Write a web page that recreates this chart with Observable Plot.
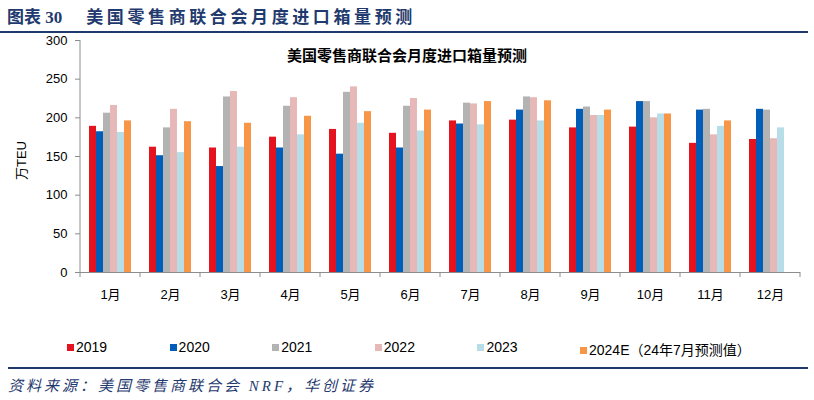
<!DOCTYPE html>
<html><head><meta charset="utf-8">
<script src="https://cdn.jsdelivr.net/npm/d3@7"></script>
<script src="https://cdn.jsdelivr.net/npm/@observablehq/plot@0.6"></script>
<style>
body{margin:0;background:#fff;width:814px;height:400px;position:relative;overflow:hidden;font-family:"Liberation Sans","Noto Sans CJK SC",sans-serif;}
#title{position:absolute;left:7px;top:3px;font-size:17px;font-weight:bold;color:#1f3a6e;font-family:"Liberation Serif","Noto Sans CJK SC",serif;white-space:nowrap;}
#title .main{letter-spacing:3.6px;margin-left:24px;}
#tline{position:absolute;left:0;top:31px;width:808px;height:2px;background:#1f3a6e;}
#chart{position:absolute;left:0;top:0;}
#inner{position:absolute;left:0;width:814px;top:44px;text-align:center;font-size:15px;font-weight:bold;color:#000;font-family:"Noto Sans CJK SC",sans-serif;}
#ylab{position:absolute;left:-10px;top:151px;width:60px;transform:rotate(-90deg);font-size:13px;color:#000;text-align:center;white-space:nowrap;}
#legend{position:absolute;top:339px;left:0;width:814px;height:20px;}
.item{position:absolute;font-size:14px;color:#000;white-space:nowrap;}
.sw{display:inline-block;width:7px;height:7px;margin-right:2px;vertical-align:1px;}
#bline{position:absolute;left:8px;top:367px;width:800px;height:2px;background:#1f3a6e;}
#src{position:absolute;left:8px;top:374px;font-size:15px;font-style:italic;color:#1f3a6e;font-family:"Liberation Serif","Noto Sans CJK SC",serif;letter-spacing:3px;white-space:nowrap;}
</style></head>
<body>
<div id="title">图表 30<span class="main">美国零售商联合会月度进口箱量预测</span></div>
<div id="tline"></div>
<div id="chart"></div>
<div id="inner">美国零售商联合会月度进口箱量预测</div>
<div id="ylab">万TEU</div>
<div id="legend"></div>
<div id="bline"></div>
<div id="src">资料来源：美国零售商联合会 NRF，华创证券</div>
<script>
const months = ["1月","2月","3月","4月","5月","6月","7月","8月","9月","10月","11月","12月"];
const series = ["2019","2020","2021","2022","2023","2024E（24年7月预测值）"];
const colors = ["#e5131d","#005eb8","#b3b3b3","#e6b8b7","#b7dde8","#f79646"];
const v2019 = [189,162,161,175,185,180,196,197,187,188,167,172];
const v2020 = [182,151,137,161,153,161,192,210,211,221,210,211];
const v2021 = [206,187,227,215,233,215,219,227,214,221,211,210];
const v2022 = [216,211,234,226,240,225,218,226,203,200,178,173];
const v2023 = [181,155,162,178,193,183,191,196,203,205,189,187];
const v2024 = [196,195,193,202,208,210,221,222,210,205,196,null];
const yTicks = [0,50,100,150,200,250,300];

const all = [v2019,v2020,v2021,v2022,v2023,v2024];
const data = [];
series.forEach((s,i)=>months.forEach((m,j)=>{ if(all[i][j]!=null) data.push({month:m, series:s, value:all[i][j]}); }));

const axisColor = "#8c8c8c";
const plot = Plot.plot({
  width: 814, height: 330,
  marginTop: 40, marginBottom: 58, marginLeft: 80, marginRight: 14,
  style: {fontFamily: '"Liberation Sans","Noto Sans CJK SC",sans-serif', fontSize: "13px", color: "#000", background: "transparent"},
  fx: {domain: months, padding: 0, label: null},
  x: {domain: series, paddingInner: 0, paddingOuter: 0.78, axis: null},
  y: {domain: [0,300], label: null},
  color: {domain: series, range: colors},
  marks: [
    Plot.barY(data, {fx: "month", x: "series", y: "value", fill: "series", insetLeft: 0, insetRight: 0}),
    Plot.ruleY([0], {stroke: axisColor}),
    Plot.axisY(yTicks, {tickSize: 5, tickPadding: 8, stroke: axisColor, fill: "#000", fontSize: 13, label: null}),
    Plot.axisFx({anchor: "bottom", tickSize: 0, tickPadding: 17, fontSize: 13, label: null, fill: "#000"})
  ]
});
document.getElementById("chart").appendChild(plot);

// boundary ticks and y axis line using the plot's scales
const fx = plot.scale("fx"), y = plot.scale("y");
const svg = d3.select(plot);
const y0 = y.apply(0), yTop = y.apply(300);
const xs = months.map(m => fx.apply(m));
xs.push(xs[xs.length-1] + fx.bandwidth);
svg.append("line").attr("x1", xs[0]).attr("x2", xs[0]).attr("y1", yTop).attr("y2", y0).attr("stroke", axisColor);
xs.forEach(x => svg.append("line").attr("x1", x).attr("x2", x).attr("y1", y0).attr("y2", y0+5).attr("stroke", axisColor));

// legend
const lg = document.getElementById("legend");
series.forEach((s,i)=>{
  const d = document.createElement("div");
  d.className = "item";
  d.style.left = (67 + i*102.6) + "px";
  d.innerHTML = `<span class="sw" style="background:${colors[i]}"></span>${s}`;
  lg.appendChild(d);
});
</script>
</body></html>
